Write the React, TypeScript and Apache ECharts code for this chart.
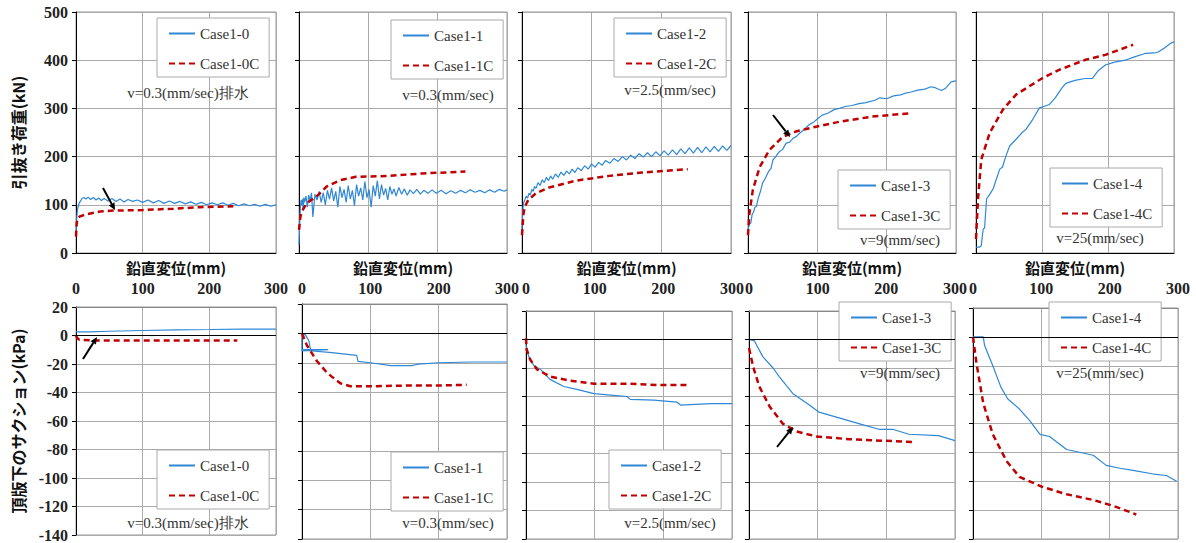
import React, { useEffect, useRef } from 'react';
import * as echarts from 'echarts';

const caseNames = ['Case1-0', 'Case1-1', 'Case1-2', 'Case1-3', 'Case1-4'];
const calcSuffix = 'C';
const speedLabels = ['v=0.3(mm/sec)排水', 'v=0.3(mm/sec)', 'v=2.5(mm/sec)', 'v=9(mm/sec)', 'v=25(mm/sec)'];
const displacementTicks = [0, 100, 200, 300];
const loadTicks = [0, 100, 200, 300, 400, 500];
const suctionTicks = [-140, -120, -100, -80, -60, -40, -20, 0, 20];

// pull-out load (kN) vs vertical displacement (mm)
const load0 = [[0,40],[1,70],[2,88],[3,95],[5,104],[7,108],[9,113],[12,115],[15,112],[18,116],[22,111],[26,115],[30,110],[34,114],[38,109],[42,113],[48,108],[54,113],[60,107],[66,112],[72,106],[78,111],[85,107],[92,110],[100,105],[108,110],[116,104],[124,109],[132,103],[140,108],[148,103],[156,107],[164,102],[172,106],[180,101],[188,105],[196,100],[204,104],[212,100],[220,104],[228,99],[236,103],[244,98],[252,102],[260,98],[268,101],[276,97],[284,101],[292,97],[300,100]];
const load0C = [[0,34],[1,60],[2,72],[6,76],[15,80],[36,86],[56,88],[100,89],[146,92],[186,95],[236,97]];
const load1 = [[0,17],[1,60],[2,95],[3,110],[4,100],[5,112],[6,90],[7,115],[8,105],[10,118],[12,95],[14,120],[16,108],[18,125],[20,75],[23,122],[26,110],[29,128],[32,105],[35,125],[38,100],[41,130],[44,112],[47,135],[50,108],[53,128],[56,95],[59,138],[62,115],[65,132],[68,105],[71,140],[74,112],[77,130],[80,98],[83,142],[86,118],[89,135],[92,110],[95,148],[98,115],[101,132],[104,95],[107,140],[110,118],[113,150],[116,112],[119,142],[122,120],[125,134],[128,110],[131,138],[134,122],[137,133],[140,118],[144,136],[148,122],[152,133],[156,120],[160,131],[165,123],[170,132],[175,122],[180,130],[186,124],[192,131],[198,124],[205,130],[212,123],[219,129],[226,124],[233,130],[240,125],[247,131],[254,126],[261,130],[268,125],[275,131],[282,126],[289,132],[296,128],[300,131]];
const load1C = [[0,48],[2,75],[4,86],[11,103],[25,117],[40,138],[59,151],[82,158],[130,160],[178,165],[240,169]];
const load2 = [[0,48],[1,85],[2,103],[4,110],[6,118],[8,114],[10,124],[12,120],[14,132],[16,128],[18,138],[20,134],[23,146],[26,140],[29,152],[32,146],[35,157],[38,150],[41,160],[44,153],[48,164],[52,157],[56,168],[60,161],[64,170],[68,164],[72,174],[76,167],[80,177],[85,171],[90,181],[95,174],[100,185],[105,178],[110,188],[115,182],[120,192],[126,186],[132,196],[138,190],[144,200],[150,193],[156,203],[162,196],[168,206],[174,199],[180,208],[186,200],[192,210],[198,202],[204,212],[210,203],[216,214],[222,204],[228,216],[234,206],[240,218],[246,207],[252,219],[258,208],[264,220],[270,210],[276,221],[282,211],[288,222],[294,213],[300,223]];
const load2C = [[0,37],[2,80],[4,96],[9,110],[20,124],[39,136],[77,150],[125,160],[172,167],[238,174]];
const load3 = [[0,48],[2,60],[4,62],[6,80],[8,85],[10,95],[12,96],[15,115],[18,128],[21,145],[25,155],[30,170],[33,175],[36,193],[40,200],[45,210],[50,215],[55,228],[60,230],[65,238],[70,242],[74,248],[80,255],[85,262],[88,266],[95,272],[100,278],[107,286],[115,290],[125,298],[132,300],[140,304],[150,306],[160,310],[170,312],[183,317],[190,322],[200,320],[210,326],[220,328],[226,331],[235,334],[245,338],[255,340],[264,345],[270,343],[279,337],[285,342],[293,355],[300,357]];
const load3C = [[0,37],[2,82],[7,131],[17,179],[31,214],[50,241],[69,252],[98,262],[131,272],[179,283],[236,290]];
const load4 = [[0,12],[5,12],[8,15],[10,40],[11,50],[13,52],[16,112],[20,120],[26,133],[30,150],[36,174],[40,178],[45,200],[51,222],[60,235],[70,250],[76,257],[85,275],[96,301],[105,305],[111,308],[120,322],[130,342],[136,352],[150,358],[165,362],[176,362],[185,378],[196,390],[210,396],[226,400],[240,407],[256,414],[270,415],[276,417],[285,425],[296,436],[300,438]];
const load4C = [[0,29],[3,112],[8,194],[21,250],[41,298],[61,329],[101,363],[126,380],[166,401],[196,411],[238,432]];

// suction under top slab (kPa) vs vertical displacement (mm)
const suction0 = [[0,2.5],[20,2.5],[50,3],[100,3.5],[150,4],[200,4.2],[250,4.5],[300,4.5]];
const suction0C = [[0,0],[2,-2],[5,-3],[10,-3.2],[30,-3.5],[100,-3.5],[200,-3.5],[242,-3.5]];
const suction1 = [[0,-11],[38,-11],[0,-12],[0,0],[5,-1],[10,-5],[12,-10],[15,-12],[40,-13],[60,-14],[80,-15],[82,-19],[100,-20],[130,-22],[160,-22],[170,-21],[200,-20],[250,-19.5],[300,-19.5]];
const suction1C = [[0,0],[7,-8],[22,-19],[37,-27],[56,-34],[71,-36],[105,-36],[154,-35.5],[202,-35.5],[241,-35]];
const suction2 = [[0,-3.5],[4,-12],[11,-18],[21,-21],[35,-28],[55,-33],[74,-35],[99,-38],[123,-39],[147,-40],[152,-42],[186,-42.5],[220,-44],[225,-46],[269,-45],[300,-45]];
const suction2C = [[0,1],[1,-7],[6,-14],[16,-21],[35,-26],[65,-29],[99,-31],[147,-31],[196,-32],[237,-32]];
const suction3 = [[0,0],[8,-1],[20,-12],[35,-20],[44,-26],[64,-38],[88,-46],[102,-51],[131,-55],[160,-59],[189,-63],[209,-63],[233,-66.5],[276,-67.5],[300,-71]];
const suction3C = [[0,-6],[6,-19],[15,-33],[30,-47],[49,-59],[69,-64.5],[98,-68],[146,-70],[194,-71],[240,-72]];
const suction4 = [[0,0],[15,0],[17,-6],[29,-20],[41,-35],[51,-43],[68,-50],[83,-58],[98,-67.5],[112,-69],[137,-78],[176,-82],[195,-89],[215,-91],[234,-92.5],[264,-95],[283,-96],[298,-100]];
const suction4C = [[0,0],[5,-18],[15,-46],[29,-67.5],[49,-86],[68,-97],[102,-104],[137,-109],[176,-113],[205,-117],[239,-123]];

const loadMeasured = [load0, load1, load2, load3, load4];
const loadCalc = [load0C, load1C, load2C, load3C, load4C];
const suctionMeasured = [suction0, suction1, suction2, suction3, suction4];
const suctionCalc = [suction0C, suction1C, suction2C, suction3C, suction4C];

const BLUE = '#2f87d6';
const RED = '#c00000';
const SERIF = 'Liberation Serif';
const CJK = 'Noto Sans CJK JP';

const topGrids = [
  { left: 76, width: 200 }, { left: 299, width: 208 }, { left: 522, width: 209 },
  { left: 748, width: 208 }, { left: 976, width: 198 },
].map((g) => ({ ...g, top: 12, height: 241 }));
const bottomGrids = [
  { left: 76, top: 307, width: 200, height: 233 },
  { left: 302, top: 304, width: 205, height: 235 },
  { left: 526, top: 311, width: 206, height: 228 },
  { left: 749, top: 311, width: 206, height: 228 },
  { left: 973, top: 308, width: 205, height: 231 },
];
const topLegendPos = [[157, 18], [391, 20], [614, 18], [838, 170], [1050, 168]];
const bottomLegendPos = [[157, 450], [391, 452], [609, 450], [839, 302], [1049, 302]];
const topNotePos = [[188, 93], [448, 95], [670, 90], [900, 240], [1100, 238]];
const bottomNotePos = [[188, 523], [448, 523], [670, 523], [900, 373], [1100, 373]];

function arrow(x1: number, y1: number, x2: number, y2: number) {
  const dx = x2 - x1, dy = y2 - y1;
  const n = Math.hypot(dx, dy);
  const ux = dx / n, uy = dy / n;
  const bx = x2 - 7 * ux, by = y2 - 7 * uy;
  const px = -uy, py = ux;
  return [
    { type: 'line', shape: { x1, y1, x2: bx, y2: by }, style: { stroke: '#000', lineWidth: 2 }, z: 100 },
    { type: 'polygon', shape: { points: [[x2, y2], [bx + 3.2 * px, by + 3.2 * py], [bx - 3.2 * px, by - 3.2 * py]] }, style: { fill: '#000' }, z: 100 },
  ];
}

function buildOption() {
  const grid: any[] = [];
  const xAxis: any[] = [];
  const yAxis: any[] = [];
  const series: any[] = [];
  const legend: any[] = [];
  const graphic: any[] = [];
  const xMin = displacementTicks[0];
  const xMax = displacementTicks[displacementTicks.length - 1];
  const xInt = displacementTicks[1] - displacementTicks[0];
  const labelFont = () => ({ fontFamily: SERIF, fontSize: 16, fontWeight: 'bold', color: '#222' });
  const legendBase = () => ({
    orient: 'vertical', backgroundColor: '#fff', borderColor: '#aaa', borderWidth: 1,
    padding: [8, 10, 6, 11], itemGap: 15, itemWidth: 26, itemHeight: 14,
    itemStyle: { color: 'transparent', borderWidth: 0, opacity: 0 },
    textStyle: { fontFamily: SERIF, fontSize: 15, color: '#333' },
  });

  for (let i = 0; i < 5; i++) {
    grid.push({ ...topGrids[i], show: true, borderColor: '#999', borderWidth: 1, backgroundColor: '#fff' });
    xAxis.push({
      type: 'value', gridIndex: i, min: xMin, max: xMax, interval: xInt,
      axisLabel: { show: false }, axisTick: { show: false },
      axisLine: { show: true, lineStyle: { color: '#000', width: 1 } },
      splitLine: { show: true, lineStyle: { color: '#aaa', width: 1 } },
      name: '鉛直変位(mm)', nameLocation: 'middle', nameGap: 7,
      nameTextStyle: { fontFamily: CJK, fontSize: 15, fontWeight: 'bold', color: '#111' },
    });
    yAxis.push({
      type: 'value', gridIndex: i, min: loadTicks[0], max: loadTicks[loadTicks.length - 1],
      interval: loadTicks[1] - loadTicks[0],
      axisLabel: { show: i === 0, ...labelFont(), margin: 8 },
      axisTick: { show: true, length: 4, lineStyle: { color: '#000' } },
      axisLine: { show: true, lineStyle: { color: '#000', width: 1 } },
      splitLine: { show: true, lineStyle: { color: '#aaa', width: 1 } },
      name: i === 0 ? '引抜き荷重(kN)' : '', nameLocation: 'middle', nameGap: 50,
      nameTextStyle: { fontFamily: CJK, fontSize: 16, fontWeight: 'bold', color: '#111' },
    });
    series.push({
      type: 'line', name: caseNames[i], xAxisIndex: i, yAxisIndex: i, data: loadMeasured[i],
      symbol: 'none', showSymbol: false, lineStyle: { color: BLUE, width: 1.2 }, itemStyle: { color: BLUE }, z: 3,
    });
    series.push({
      type: 'line', name: caseNames[i] + calcSuffix, xAxisIndex: i, yAxisIndex: i, data: loadCalc[i],
      symbol: 'none', showSymbol: false, lineStyle: { color: RED, width: 2.5, type: [6, 4] }, itemStyle: { color: RED }, z: 4,
    });
    legend.push({ ...legendBase(), left: topLegendPos[i][0], top: topLegendPos[i][1], data: [caseNames[i], caseNames[i] + calcSuffix] });
    graphic.push({
      type: 'text', x: topNotePos[i][0], y: topNotePos[i][1], z: 50,
      style: { text: speedLabels[i], fontFamily: SERIF, fontSize: 15, fill: '#333', align: 'center', verticalAlign: 'middle' },
    });
  }

  for (let i = 0; i < 5; i++) {
    const k = i + 5;
    const g = bottomGrids[i];
    grid.push({ ...g, show: true, borderColor: '#999', borderWidth: 1, backgroundColor: '#fff' });
    xAxis.push({
      type: 'value', gridIndex: k, position: 'top', min: xMin, max: xMax, interval: xInt,
      axisLabel: { show: true, ...labelFont(), margin: g.top - 296 },
      axisTick: { show: false },
      axisLine: { show: true, onZero: false, lineStyle: { color: '#888', width: 1 } },
      splitLine: { show: true, lineStyle: { color: '#aaa', width: 1 } },
    });
    yAxis.push({
      type: 'value', gridIndex: k, min: suctionTicks[0], max: suctionTicks[suctionTicks.length - 1],
      interval: suctionTicks[1] - suctionTicks[0],
      axisLabel: { show: i === 0, ...labelFont(), margin: 8 },
      axisTick: { show: true, length: 4, lineStyle: { color: '#000' } },
      axisLine: { show: true, onZero: false, lineStyle: { color: '#000', width: 1 } },
      splitLine: { show: true, lineStyle: { color: '#aaa', width: 1 } },
      name: i === 0 ? '頂版下のサクション(kPa)' : '', nameLocation: 'middle', nameGap: 50,
      nameTextStyle: { fontFamily: CJK, fontSize: 16, fontWeight: 'bold', color: '#111' },
    });
    series.push({
      type: 'line', name: caseNames[i], xAxisIndex: k, yAxisIndex: k, data: suctionMeasured[i],
      symbol: 'none', showSymbol: false, lineStyle: { color: BLUE, width: 1.2 }, itemStyle: { color: BLUE }, z: 3,
      markLine: {
        silent: true, symbol: ['none', 'none'], label: { show: false },
        lineStyle: { color: '#000', width: 1, type: 'solid' }, data: [{ yAxis: 0 }],
      },
    });
    series.push({
      type: 'line', name: caseNames[i] + calcSuffix, xAxisIndex: k, yAxisIndex: k, data: suctionCalc[i],
      symbol: 'none', showSymbol: false, lineStyle: { color: RED, width: 2.5, type: [6, 4] }, itemStyle: { color: RED }, z: 4,
    });
    legend.push({ ...legendBase(), left: bottomLegendPos[i][0], top: bottomLegendPos[i][1], data: [caseNames[i], caseNames[i] + calcSuffix] });
    graphic.push({
      type: 'text', x: bottomNotePos[i][0], y: bottomNotePos[i][1], z: 50,
      style: { text: speedLabels[i], fontFamily: SERIF, fontSize: 15, fill: '#333', align: 'center', verticalAlign: 'middle' },
    });
  }

  graphic.push(...arrow(103, 188, 115, 210));
  graphic.push(...arrow(773, 115, 790, 137));
  graphic.push(...arrow(83, 359, 97, 337));
  graphic.push(...arrow(777, 447, 793, 427));

  return {
    animation: false,
    backgroundColor: '#fff',
    textStyle: { fontFamily: SERIF },
    grid, xAxis, yAxis, series, legend, graphic,
  };
}

export default function App() {
  const ref = useRef<HTMLDivElement>(null);
  useEffect(() => {
    if (!ref.current) return;
    const chart = echarts.init(ref.current, undefined, { renderer: 'svg' });
    chart.setOption(buildOption() as any);
    return () => chart.dispose();
  }, []);
  return (
    <div
      ref={ref}
      style={{ position: 'fixed', left: 0, top: 0, width: 1196, height: 543, background: '#fff' }}
    />
  );
}
